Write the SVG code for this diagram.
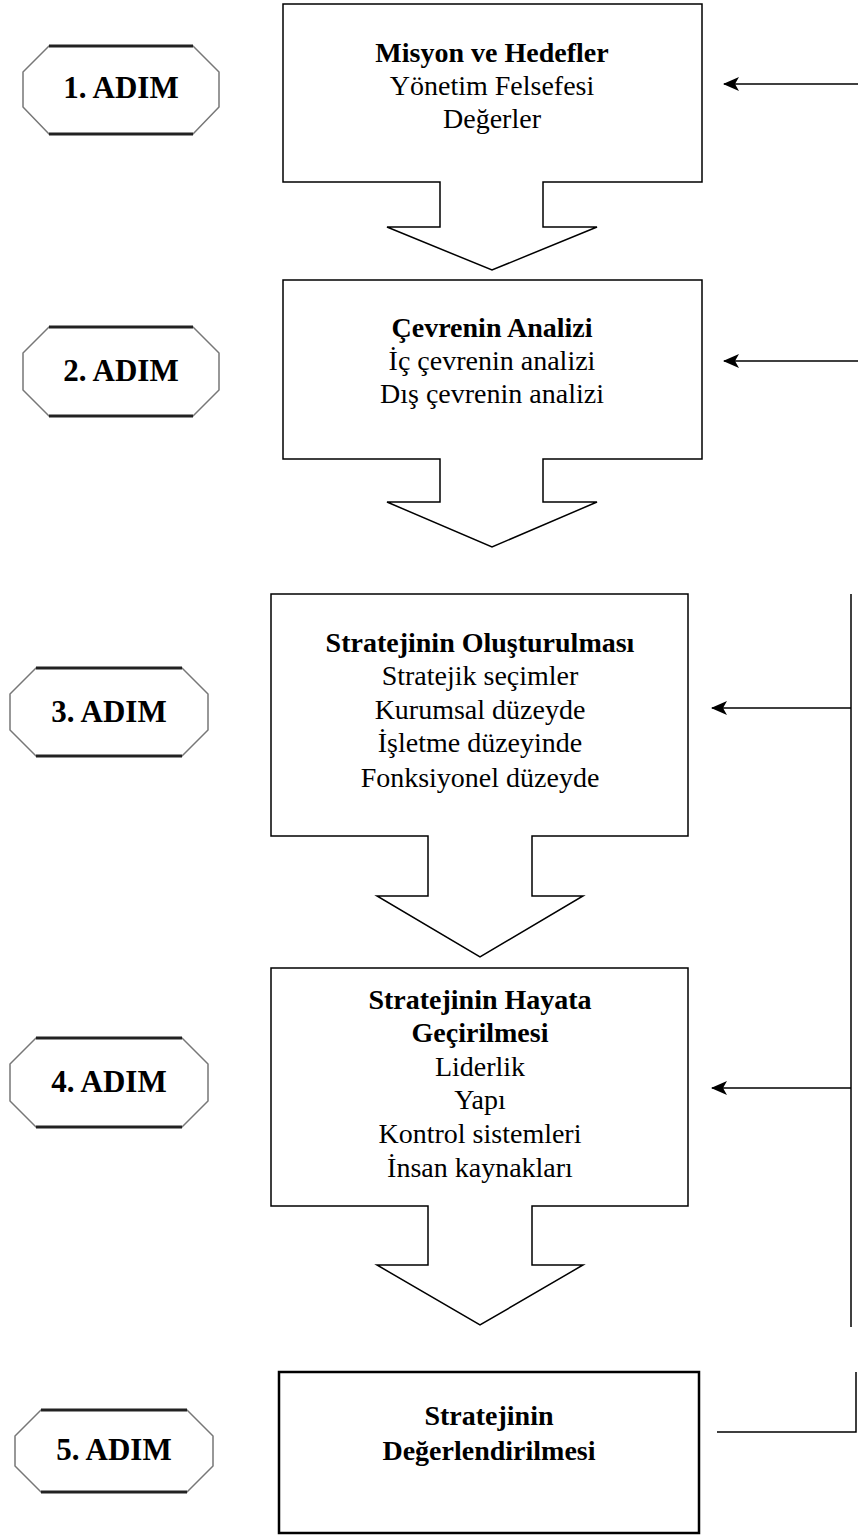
<svg xmlns="http://www.w3.org/2000/svg" width="858" height="1535" viewBox="0 0 858 1535">
<style>
.box{fill:#fff;stroke:#000;stroke-width:1.5}
.hex{fill:#fff;stroke:#777;stroke-width:1.5;stroke-linejoin:round}
.hedge{stroke:#222;stroke-width:3}
.t{font-family:"Liberation Serif",serif;font-size:28px;text-anchor:middle;fill:#000}
.b{font-weight:bold}
.ht{font-family:"Liberation Serif",serif;font-size:31px;font-weight:bold;text-anchor:middle;fill:#000}
.ln{stroke:#000;stroke-width:1.5;fill:none}
</style>
<defs>
<marker id="ah" markerWidth="16" markerHeight="14" refX="15" refY="7" orient="auto" markerUnits="userSpaceOnUse">
<path d="M0,0 L16,7 L0,14 L4,7 Z" fill="#000" transform="rotate(0)"/>
</marker>
</defs>
<rect width="858" height="1535" fill="#fff"/>

<g id="step1">
<path class="hex" d="M49,46 H193 L219,72 V107 L193,134 H49 L23,107 V72 Z"/>
<line class="hedge" x1="49" y1="46" x2="193" y2="46"/><line class="hedge" x1="49" y1="134" x2="193" y2="134"/>
<text class="ht" x="121" y="98">1. ADIM</text>
</g>
<g id="box1">
<path class="box" d="M283,4 H702 V182 H543 V227 H597 L492,270 L387,227 H440 V182 H283 Z"/>
<text class="t b" x="492" y="62">Misyon ve Hedefler</text>
<text class="t" x="492" y="95">Yönetim Felsefesi</text>
<text class="t" x="492" y="128">Değerler</text>
</g>

<g id="step2">
<path class="hex" d="M49,327 H193 L219,353 V390 L193,416 H49 L23,390 V353 Z"/>
<line class="hedge" x1="49" y1="327" x2="193" y2="327"/><line class="hedge" x1="49" y1="416" x2="193" y2="416"/>
<text class="ht" x="121" y="381">2. ADIM</text>
</g>
<g id="box2">
<path class="box" d="M283,280 H702 V459 H543 V502 H597 L492,547 L387,502 H440 V459 H283 Z"/>
<text class="t b" x="492" y="337">Çevrenin Analizi</text>
<text class="t" x="492" y="370">İç çevrenin analizi</text>
<text class="t" x="492" y="403">Dış çevrenin analizi</text>
</g>

<g id="step3">
<path class="hex" d="M36,668 H182 L208,694 V730 L182,756 H36 L10,730 V694 Z"/>
<line class="hedge" x1="36" y1="668" x2="182" y2="668"/><line class="hedge" x1="36" y1="756" x2="182" y2="756"/>
<text class="ht" x="109" y="722">3. ADIM</text>
</g>
<g id="box3">
<path class="box" d="M271,594 H688 V836 H532 V896 H583 L480,957 L377,896 H428 V836 H271 Z"/>
<text class="t b" x="480" y="652">Stratejinin Oluşturulması</text>
<text class="t" x="480" y="685">Stratejik seçimler</text>
<text class="t" x="480" y="719">Kurumsal düzeyde</text>
<text class="t" x="480" y="752">İşletme düzeyinde</text>
<text class="t" x="480" y="787">Fonksiyonel düzeyde</text>
</g>

<g id="step4">
<path class="hex" d="M36,1038 H182 L208,1064 V1101 L182,1127 H36 L10,1101 V1064 Z"/>
<line class="hedge" x1="36" y1="1038" x2="182" y2="1038"/><line class="hedge" x1="36" y1="1127" x2="182" y2="1127"/>
<text class="ht" x="109" y="1092">4. ADIM</text>
</g>
<g id="box4">
<path class="box" d="M271,968 H688 V1206 H532 V1265 H583 L480,1325 L377,1265 H428 V1206 H271 Z"/>
<text class="t b" x="480" y="1009">Stratejinin Hayata</text>
<text class="t b" x="480" y="1042">Geçirilmesi</text>
<text class="t" x="480" y="1076">Liderlik</text>
<text class="t" x="480" y="1109">Yapı</text>
<text class="t" x="480" y="1143">Kontrol sistemleri</text>
<text class="t" x="480" y="1177">İnsan kaynakları</text>
</g>

<g id="step5">
<path class="hex" d="M41,1410 H187 L213,1436 V1466 L187,1492 H41 L15,1466 V1436 Z"/>
<line class="hedge" x1="41" y1="1410" x2="187" y2="1410"/><line class="hedge" x1="41" y1="1492" x2="187" y2="1492"/>
<text class="ht" x="114" y="1460">5. ADIM</text>
</g>
<g id="box5">
<rect x="279" y="1372" width="420" height="161" fill="#fff" stroke="#000" stroke-width="2.5"/>
<text class="t b" x="489" y="1425">Stratejinin</text>
<text class="t b" x="489" y="1460">Değerlendirilmesi</text>
</g>

<g id="connectors">
<line class="ln" x1="858" y1="84" x2="724" y2="84" marker-end="url(#ah)"/>
<line class="ln" x1="858" y1="361" x2="724" y2="361" marker-end="url(#ah)"/>
<line class="ln" x1="851" y1="594" x2="851" y2="1327"/>
<line class="ln" x1="851" y1="708" x2="712" y2="708" marker-end="url(#ah)"/>
<line class="ln" x1="851" y1="1088" x2="712" y2="1088" marker-end="url(#ah)"/>
<path class="ln" d="M856,1372 V1432 H717"/>
</g>
</svg>
